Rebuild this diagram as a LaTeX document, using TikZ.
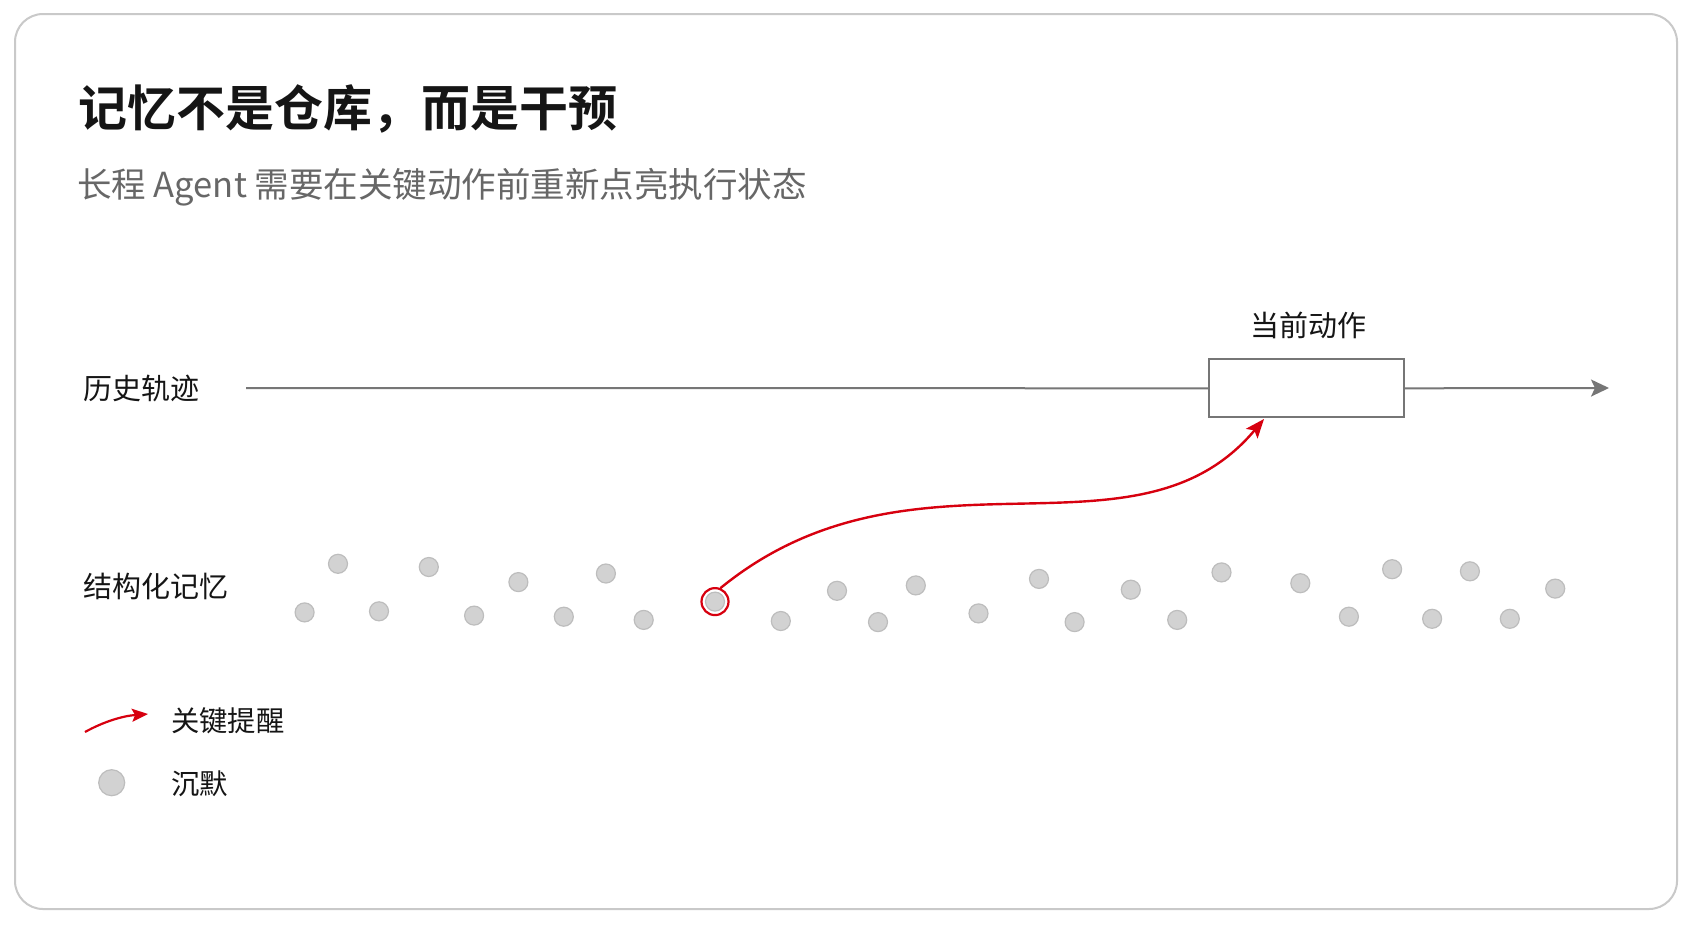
\documentclass[tikz,border=0pt]{standalone}
\usepackage{fontspec}
\setmainfont{Noto Sans CJK SC}[BoldFont={Noto Sans CJK SC Bold}]
\usetikzlibrary{arrows.meta}
\definecolor{frame}{HTML}{C9C9C9}
\definecolor{ink}{HTML}{151515}
\definecolor{subgray}{HTML}{676767}
\definecolor{linegray}{HTML}{767676}
\definecolor{dotfill}{HTML}{D2D2D2}
\definecolor{dotline}{HTML}{BDBDBD}
\definecolor{keyred}{HTML}{D7000F}
\tikzset{
  dotnode/.style={circle,inner sep=0pt,minimum size=19pt,fill=dotfill,draw=dotline,line width=1.2pt},
  ringnode/.style={circle,inner sep=0pt,minimum size=27pt,draw=keyred,line width=2.2pt},
  lbl/.style={font=\fontsize{29pt}{32pt}\selectfont,text=ink,inner sep=0pt},
  leglbl/.style={font=\fontsize{28.3pt}{32pt}\selectfont,text=ink,inner sep=0pt},
  boxnode/.style={rectangle,draw=linegray,fill=white,line width=2pt,minimum width=195pt,minimum height=58pt,inner sep=0pt},
  tline/.style={draw=linegray,line width=2pt},
  redarrow/.style={draw=keyred,line width=2.4pt,-{Stealth[length=19pt,width=15pt,inset=4pt]}},
}
\begin{document}
\begin{tikzpicture}[x=1pt,y=-1pt]
\useasboundingbox (0,0) rectangle (1693,929);
\fill[white] (0,0) rectangle (1693,929);
\draw[frame,line width=2pt,rounded corners=28pt] (15,14) rectangle (1677,909);

\node[anchor=base west,inner sep=0pt,text=ink,font=\fontsize{49pt}{56pt}\selectfont\bfseries] (title) at (78,126) {记忆不是仓库，而是干预};
\node[anchor=base west,inner sep=0pt,text=subgray,font=\fontsize{34.5pt}{40pt}\selectfont] (sub) at (77,197) {长程 Agent 需要在关键动作前重新点亮执行状态};

\node[lbl,anchor=base west] (hist) at (83,399) {历史轨迹};
\node[lbl,anchor=base west] (mem) at (83,597) {结构化记忆};

\coordinate (tl0) at (246,388);
\coordinate (tl1) at (1609,388);
\node[boxnode] (box) at (1306.7,388.3) {};
\node[lbl,anchor=base] (cur) at (1308,336) {当前动作};
\draw[tline] (tl0) -- (box.west);
\draw[tline,-{Stealth[length=18pt,width=17pt,inset=4pt]}] (box.east) -- (tl1);

% dots
\node[dotnode] (d1) at (304.6,612.4) {};
\node[dotnode] (d2) at (338,563.8) {};
\node[dotnode] (d3) at (379,611.3) {};
\node[dotnode] (d4) at (428.8,567) {};
\node[dotnode] (d5) at (474.1,615.6) {};
\node[dotnode] (d6) at (518.4,582.1) {};
\node[dotnode] (d7) at (563.8,616.7) {};
\node[dotnode] (d8) at (605.9,573.5) {};
\node[dotnode] (d9) at (643.7,619.9) {};
\node[dotnode] (d10) at (715,601.6) {};
\node[ringnode] (ring) at (715,601.6) {};
\node[dotnode] (d11) at (780.8,621) {};
\node[dotnode] (d12) at (837,590.8) {};
\node[dotnode] (d13) at (878,622.1) {};
\node[dotnode] (d14) at (915.8,585.4) {};
\node[dotnode] (d15) at (978.5,613.4) {};
\node[dotnode] (d16) at (1039,578.9) {};
\node[dotnode] (d17) at (1074.6,622.1) {};
\node[dotnode] (d18) at (1130.8,589.7) {};
\node[dotnode] (d19) at (1177.2,619.9) {};
\node[dotnode] (d20) at (1221.5,572.4) {};
\node[dotnode] (d21) at (1300.3,583.2) {};
\node[dotnode] (d22) at (1348.9,616.7) {};
\node[dotnode] (d23) at (1392.1,569.2) {};
\node[dotnode] (d24) at (1432.1,618.8) {};
\node[dotnode] (d25) at (1469.9,571.3) {};
\node[dotnode] (d26) at (1509.8,618.8) {};
\node[dotnode] (d27) at (1555.2,588.6) {};

\coordinate (tip) at (1264,419);
\draw[redarrow] (ring.68) .. controls (913,431) and (1135,573) .. (tip);

% legend
\coordinate (la0) at (85,732);
\coordinate (la1) at (148,714);
\draw[draw=keyred,line width=2.2pt,-{Stealth[length=16pt,width=13pt,inset=3pt]}] (la0) .. controls (103,722) and (122,716) .. (la1);
\node[leglbl,anchor=base west] (leg1) at (171,731) {关键提醒};
\node[circle,inner sep=0pt,minimum size=26pt,fill=dotfill,draw=dotline,line width=1.2pt] (legdot) at (111.7,782.7) {};
\node[leglbl,anchor=base west] (leg2) at (171,794) {沉默};
\end{tikzpicture}
\end{document}
